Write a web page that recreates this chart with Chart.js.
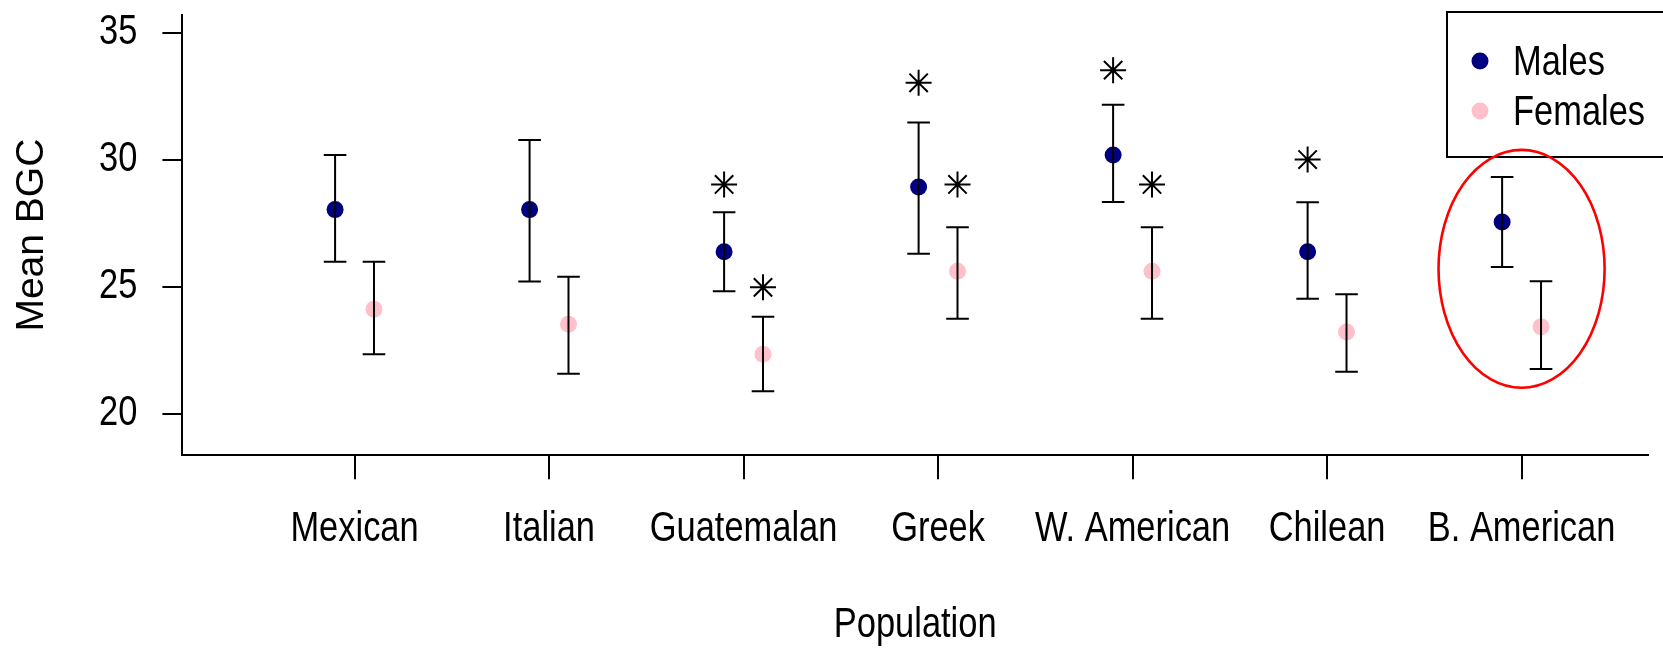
<!DOCTYPE html>
<html><head><meta charset="utf-8">
<script src="https://cdn.jsdelivr.net/npm/chart.js@4/dist/chart.umd.min.js"></script>
<style>html,body{margin:0;padding:0;background:#fff;overflow:hidden}#wrap{width:1663px;height:649px}</style>
</head><body><div id="wrap"><canvas id="c" width="1663" height="649"></canvas></div>
<script>
// ---- data ----
const categories = ['Mexican', 'Italian', 'Guatemalan', 'Greek', 'W. American', 'Chilean', 'B. American'];
const maleMean   = [28.03, 28.03, 26.37, 28.92, 30.18, 26.37, 27.54];
const maleLower  = [25.98, 25.20, 24.82, 26.29, 28.33, 24.52, 25.77];
const maleUpper  = [30.18, 30.77, 27.93, 31.46, 32.16, 28.32, 29.31];
const femaleMean  = [24.11, 23.52, 22.34, 25.60, 25.60, 23.21, 23.42];
const femaleLower = [22.34, 21.57, 20.88, 23.73, 23.73, 21.65, 21.76];
const femaleUpper = [25.98, 25.39, 23.81, 27.34, 27.34, 24.70, 25.21];
const maleStar   = [null, null, 29.02, 33.02, 33.52, 30.00, null];
const femaleStar = [null, null, 24.97, 29.02, 29.02, null, null];
const yTicks = [20, 25, 30, 35];
const seriesNames = ['Males', 'Females'];
const highlightCategory = 'B. American';
const highlightCenterY = 25.70;
const highlightHalfX = 0.427;
const highlightHalfY = 4.68;

// ---- style ----
const SANS = "'Liberation Sans', Arial, sans-serif";
const NARROW_SIZE = 42;     // horizontal labels are drawn condensed (Arial Narrow look)
const NARROW_SCALE = 0.82;
const OFFSET = 0.1;
const colors = ['#000080', '#FFC0CB'];

const canvas = document.getElementById('c');
const c2d = canvas.getContext('2d');
// Condense horizontal text set at the "narrow" size, to mimic a narrow face (none installed)
const baseFillText = c2d.fillText.bind(c2d);
c2d.fillText = function (text, x, y, maxWidth) {
  if (this.font.indexOf(NARROW_SIZE + 'px') !== -1) {
    this.save();
    this.translate(x, y);
    this.scale(NARROW_SCALE, 1);
    baseFillText(text, 0, 0);
    this.restore();
  } else {
    baseFillText(text, x, y, maxWidth);
  }
};

const pts = (arr, off) => arr.map((v, i) => v == null ? null : ({x: i + 1 + off, y: v})).filter(p => p);

const groups = [
  {lower: maleLower, upper: maleUpper, off: -OFFSET},
  {lower: femaleLower, upper: femaleUpper, off: OFFSET}
];

const overlay = {
  id: 'overlay',
  afterDatasetsDraw(chart) {
    const {ctx, scales: {x, y}} = chart;
    ctx.save();
    // error bars
    ctx.strokeStyle = '#000';
    ctx.lineWidth = 2;
    const cap = 11.3;
    groups.forEach(g => {
      g.lower.forEach((lo, i) => {
        const px = x.getPixelForValue(i + 1 + g.off);
        const pl = y.getPixelForValue(lo), pu = y.getPixelForValue(g.upper[i]);
        ctx.beginPath();
        ctx.moveTo(px, pl); ctx.lineTo(px, pu);
        ctx.moveTo(px - cap, pl); ctx.lineTo(px + cap, pl);
        ctx.moveTo(px - cap, pu); ctx.lineTo(px + cap, pu);
        ctx.stroke();
      });
    });
    // legend box
    const lx = 1447, ly = 12, lh = 145;
    ctx.fillStyle = '#fff';
    ctx.fillRect(lx, ly, 400, lh);
    ctx.strokeStyle = '#000';
    ctx.lineWidth = 2;
    ctx.strokeRect(lx, ly, 400, lh);
    ctx.font = NARROW_SIZE + 'px ' + SANS;
    ctx.textBaseline = 'middle';
    ctx.textAlign = 'left';
    chart.data.datasets.slice(0, 2).forEach((ds, i) => {
      const yy = 61 + i * 50;
      ctx.fillStyle = ds.backgroundColor;
      ctx.beginPath();
      ctx.arc(1480, yy, 8.5, 0, Math.PI * 2);
      ctx.fill();
      ctx.fillStyle = '#000';
      ctx.fillText(ds.label, 1513, yy + 2);
    });
    // highlight ellipse (drawn over the legend box)
    const hi = categories.indexOf(highlightCategory) + 1;
    const cx = x.getPixelForValue(hi), cy = y.getPixelForValue(highlightCenterY);
    const rx = Math.abs(x.getPixelForValue(hi + highlightHalfX) - cx);
    const ry = Math.abs(y.getPixelForValue(highlightCenterY + highlightHalfY) - cy);
    ctx.strokeStyle = '#f00';
    ctx.lineWidth = 2.6;
    ctx.beginPath();
    ctx.ellipse(cx, cy, rx, ry, 0, 0, Math.PI * 2);
    ctx.stroke();
    ctx.restore();
  }
};

new Chart(canvas, {
  type: 'scatter',
  data: {
    datasets: [
      {label: seriesNames[0], data: pts(maleMean, -OFFSET), backgroundColor: colors[0], borderColor: colors[0], pointRadius: 8.5, borderWidth: 0},
      {label: seriesNames[1], data: pts(femaleMean, OFFSET), backgroundColor: colors[1], borderColor: colors[1], pointRadius: 8.5, borderWidth: 0},
      {label: 'sig', data: pts(maleStar, -OFFSET).concat(pts(femaleStar, OFFSET)), pointStyle: 'star', pointRadius: 13, borderColor: '#000', backgroundColor: 'rgba(0,0,0,0)', borderWidth: 2}
    ]
  },
  options: {
    responsive: false,
    animation: false,
    devicePixelRatio: 1,
    layout: {padding: {top: 11.7, left: 0, right: 0, bottom: 0}},
    plugins: {legend: {display: false}, tooltip: {enabled: false}},
    scales: {
      x: {
        type: 'linear', position: 'bottom', min: 0.115, max: 7.65,
        afterBuildTicks: s => { s.ticks = categories.map((c, i) => ({value: i + 1})); },
        afterFit: s => { s.height = 649 - 455.3; s.paddingLeft = 0; s.paddingRight = 0; },
        ticks: {callback: v => categories[v - 1] ?? '', font: {family: SANS, size: NARROW_SIZE}, color: '#000', padding: 25, maxRotation: 0, autoSkip: false},
        grid: {drawOnChartArea: false, drawTicks: true, tickLength: 24, color: '#000', lineWidth: 2},
        border: {display: true, color: '#000', width: 2},
        title: {display: true, text: 'Population', font: {family: SANS, size: NARROW_SIZE}, color: '#000', padding: {top: 0, bottom: -2}}
      },
      y: {
        min: 18.36, max: 35.69,
        afterBuildTicks: s => { s.ticks = yTicks.map(v => ({value: v})); },
        afterFit: s => { s.width = 182.4; s.paddingTop = 0; s.paddingBottom = 0; },
        ticks: {font: {family: SANS, size: NARROW_SIZE}, color: '#000', padding: 25},
        grid: {drawOnChartArea: false, drawTicks: true, tickLength: 20, color: '#000', lineWidth: 2},
        border: {display: true, color: '#000', width: 2},
        title: {display: true, text: 'Mean BGC', font: {family: SANS, size: 39}, color: '#000', padding: {top: 9, bottom: 0}}
      }
    }
  },
  plugins: [overlay]
});
</script>
</body></html>
